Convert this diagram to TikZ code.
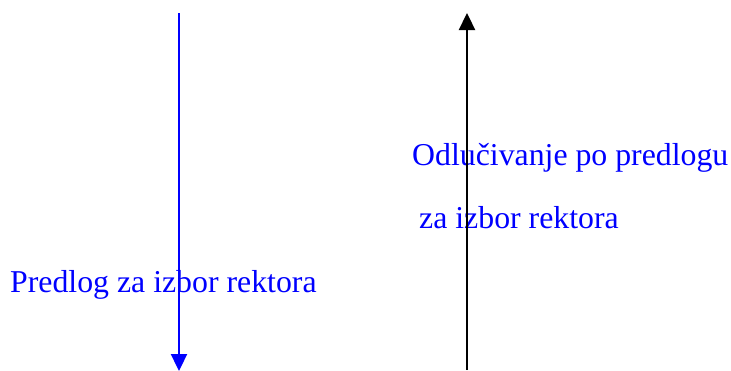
\documentclass[tikz,border=0pt]{standalone}
\usepackage{fontspec}
\setmainfont{Liberation Serif}
\usetikzlibrary{arrows.meta}
\definecolor{pureblue}{RGB}{0,0,255}
\tikzset{
  lbl/.style={anchor=base west, inner sep=0pt, text=pureblue, font=\fontsize{31.8}{38}\selectfont},
  arr/.style={line width=2.3pt, -{Triangle[width=16pt,length=17pt]}}
}
\begin{document}
\begin{tikzpicture}[x=1pt,y=-1pt]
\useasboundingbox (0,0) rectangle (731,370);
\coordinate (bTop) at (179,13);
\coordinate (bBot) at (179,371);
\coordinate (kBot) at (467,370);
\coordinate (kTop) at (467,13);
\node[lbl] (pred) at (10,292) {Predlog za izbor rektora};
\node[lbl] (odl) at (412,165) {Odlučivanje po predlogu};
\node[lbl] (za) at (419,228) {za izbor rektora};
\draw[arr, draw=pureblue, fill=pureblue] (bTop) -- (bBot);
\draw[arr, draw=black, fill=black] (kBot) -- (kTop);
\end{tikzpicture}
\end{document}
